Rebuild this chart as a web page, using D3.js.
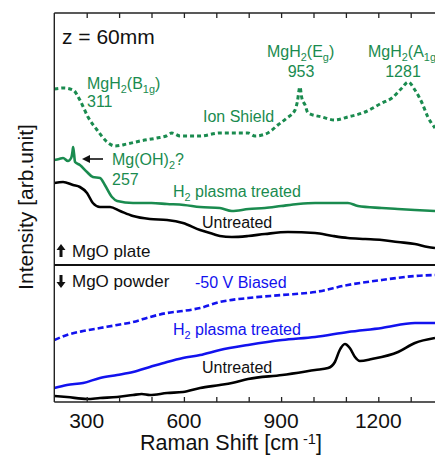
<!DOCTYPE html>
<html><head><meta charset="utf-8">
<script src="https://cdn.jsdelivr.net/npm/d3@7"></script>
<style>
body{margin:0;background:#fff}
svg{display:block}
text{font-family:"Liberation Sans",Arial,Helvetica,sans-serif}
</style>
</head><body>
<svg id="c" width="435" height="455"></svg>
<script>
// ---- data (Raman shift cm-1, intensity arb. units) ----
const ionShield = [[200,313],[230,314],[258,312],[279,302],[304,285],[332,272],[363,260],[387,256],[424,258],[465,261],[517,264],[545,266],[563,269],[588,266],[650,266],[711,269],[748,269],[798,269],[819,266],[859,269],[890,277],[918,284],[943,292],[950,300],[958,315],[964,304],[974,297],[983,289],[1026,285],[1066,282],[1106,285],[1159,290],[1211,299],[1242,304],[1273,314],[1292,320],[1313,312],[1335,299],[1353,285],[1375,274]];
const plateH2 = [[200,242],[215,243],[227,244],[242,241],[252,244],[256,250],[258,255],[261,248],[264,240],[279,237],[301,230],[319,225],[341,224],[356,217],[378,205],[394,201],[443,199],[500,199],[548,198],[600,197],[650,195],[711,194],[748,191],[800,193],[850,194],[900,196],[952,198],[1005,199],[1060,199],[1106,199],[1137,196],[1211,194],[1260,193],[1313,192],[1375,191]];
const plateUntreated = [[200,219],[227,220],[258,217],[279,215],[301,209],[319,199],[341,195],[372,195],[403,191],[443,186],[495,183],[548,182],[597,179],[650,172],[690,168],[711,166],[748,165],[798,166],[850,168],[921,170],[1005,169],[1060,166],[1106,164],[1160,163],[1211,162],[1260,160],[1313,158],[1353,155],[1375,154]];
const powderBiased = [[200,62],[239,67],[289,71],[341,74],[394,77],[443,80],[495,85],[548,89],[597,91],[650,94],[711,100],[798,104],[903,107],[1005,110],[1106,117],[1211,122],[1313,126],[1375,127]];
const powderH2 = [[200,14],[239,17],[289,19],[341,24],[394,27],[443,30],[495,35],[548,40],[597,44],[650,47],[711,52],[798,57],[903,62],[1005,65],[1106,70],[1211,74],[1313,79],[1375,79]];
const powderUntreated = [[200,6],[239,5],[301,3],[341,4],[394,5],[443,7],[470,8],[495,7],[548,9],[597,10],[650,14],[711,17],[748,19],[798,23],[903,27],[1005,32],[1045,34],[1066,40],[1081,52],[1097,58],[1112,54],[1128,45],[1143,41],[1180,43],[1261,50],[1313,59],[1375,64]];
const xTicks = [300,400,500,600,700,800,900,1000,1100,1200,1300];
const xTickLabels = [300,600,900,1200];

const GREEN = "#1a8b4f", BLUE = "#1212ee", BLACK = "#000";
const svg = d3.select("#c");
const L = 54.3, T = 13, B = 402, R = 435;
const x = d3.scaleLinear().domain([200,1400]).range([L, L + 1200*0.324]);
const y = d3.scaleLinear().domain([0,389]).range([B, T]);

svg.append("defs").append("clipPath").attr("id","clip")
  .append("rect").attr("x",L).attr("y",T).attr("width",R-L).attr("height",B-T);

const line = d3.line().x(d=>x(d[0])).y(d=>y(d[1])).curve(d3.curveMonotoneX);
const g = svg.append("g").attr("clip-path","url(#clip)");
function draw(data,color,w,dash){
  const p = g.append("path").datum(data).attr("d",line).attr("fill","none")
    .attr("stroke",color).attr("stroke-width",w).attr("stroke-linejoin","round");
  if(dash) p.attr("stroke-dasharray",dash);
}
draw(ionShield,GREEN,3,"4,3");
draw(plateH2,GREEN,2.6);
draw(plateUntreated,BLACK,2.6);
draw(powderBiased,BLUE,2.6,"6,3");
draw(powderH2,BLUE,2.6);
draw(powderUntreated,BLACK,2.6);

// axes
const axB = svg.append("g").attr("transform",`translate(0,${B})`)
  .call(d3.axisBottom(x).tickValues(xTicks).tickSize(-5).tickFormat(""));
const axT = svg.append("g").attr("transform",`translate(0,${T})`)
  .call(d3.axisTop(x).tickValues(xTicks).tickSize(-5).tickFormat(""));
[axB,axT].forEach(a=>{a.select(".domain").remove(); a.selectAll("line").attr("stroke","#222").attr("stroke-width",1.3);});
svg.append("line").attr("x1",L).attr("x2",R).attr("y1",T).attr("y2",T).attr("stroke","#222").attr("stroke-width",1.4);
svg.append("line").attr("x1",L).attr("x2",R).attr("y1",B).attr("y2",B).attr("stroke","#222").attr("stroke-width",1.4);
svg.append("line").attr("x1",L).attr("x2",L).attr("y1",T).attr("y2",B).attr("stroke","#222").attr("stroke-width",1.4);
svg.append("line").attr("x1",L).attr("x2",R).attr("y1",265).attr("y2",265).attr("stroke","#111").attr("stroke-width",2);

svg.selectAll("text.tl").data(xTickLabels).join("text").attr("class","tl")
  .attr("x",d=>x(d)).attr("y",428).attr("text-anchor","middle")
  .attr("font-size",21).attr("fill","#111").text(d=>d);

// rich text helper
function rich(px,py,segs,size,color,anchor){
  const t = svg.append("text").attr("x",px).attr("y",py).attr("font-size",size).attr("fill",color);
  if(anchor) t.attr("text-anchor",anchor);
  segs.forEach(s=>{
    const ts = t.append("tspan").text(s.t);
    if(s.sub){ ts.attr("font-size",size*0.68).attr("dy",4); }
    if(s.sup){ ts.attr("font-size",size*0.68).attr("dy",-6); }
    if(s.back) ts.attr("dy",s.back);
  });
  return t;
}

// axis titles
rich(231,450,[{t:"Raman Shift [cm"},{t:" -1",sup:true},{t:"]",back:6}],21.5,"#111","middle");
svg.append("text").attr("transform","translate(33,207) rotate(-90)").attr("text-anchor","middle")
  .attr("font-size",21).attr("fill","#111").text("Intensity [arb.unit]");

rich(62,44,[{t:"z = 60mm"}],21,"#111");

// annotations
rich(87,89,[{t:"MgH"},{t:"2",sub:true},{t:"(B",back:-4},{t:"1g",sub:true},{t:")",back:-4}],16,GREEN);
rich(87,107,[{t:"311"}],16,GREEN);
rich(267,57,[{t:"MgH"},{t:"2",sub:true},{t:"(E",back:-4},{t:"g",sub:true},{t:")",back:-4}],16,GREEN);
rich(301,77,[{t:"953"}],16,GREEN,"middle");
rich(368,57,[{t:"MgH"},{t:"2",sub:true},{t:"(A",back:-4},{t:"1g",sub:true},{t:")",back:-4}],16,GREEN);
rich(403,77,[{t:"1281"}],16,GREEN,"middle");
rich(203,122,[{t:"Ion Shield"}],16,GREEN);
rich(112,165,[{t:"Mg(OH)"},{t:"2",sub:true},{t:"?",back:-4}],16,GREEN);
rich(112,185,[{t:"257"}],16,GREEN);
rich(173,197,[{t:"H"},{t:"2",sub:true},{t:" plasma treated",back:-4}],16,GREEN);
rich(202,228,[{t:"Untreated"}],16,"#111");
rich(72,257,[{t:"MgO plate"}],17,"#111");
rich(72,287,[{t:"MgO powder"}],17,"#111");
rich(195,288,[{t:"-50 V Biased"}],16,BLUE);
rich(173,335,[{t:"H"},{t:"2",sub:true},{t:" plasma treated",back:-4}],16,BLUE);
rich(202,373,[{t:"Untreated"}],16,"#111");

// arrows
svg.append("line").attr("x1",103).attr("x2",88).attr("y1",159).attr("y2",159).attr("stroke","#111").attr("stroke-width",1.6);
svg.append("path").attr("d","M82,159 L90,155 L90,163 Z").attr("fill","#111");
// bold up arrow (MgO plate)
svg.append("path").attr("d","M61,244 L65.5,250 L62.5,250 L62.5,257 L59.5,257 L59.5,250 L56.5,250 Z").attr("fill","#111");
// bold down arrow (MgO powder)
svg.append("path").attr("d","M61,288 L65.5,282 L62.5,282 L62.5,275 L59.5,275 L59.5,282 L56.5,282 Z").attr("fill","#111");
</script>
</body></html>
